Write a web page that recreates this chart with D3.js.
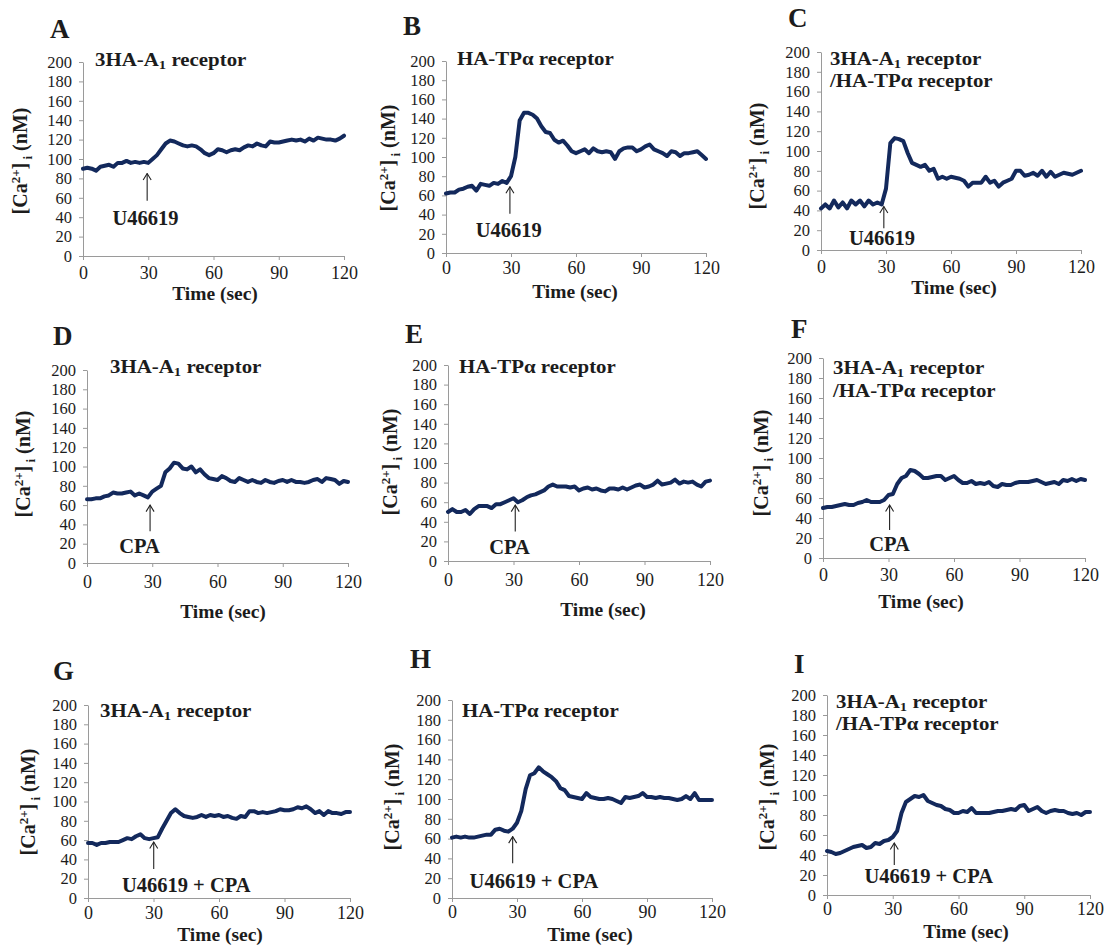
<!DOCTYPE html>
<html><head><meta charset="utf-8">
<script src="https://cdn.jsdelivr.net/npm/d3@7"></script>
<style>
body{margin:0;background:#fff}
svg{display:block}
text{font-family:"Liberation Serif","Times New Roman",serif;fill:#1c1c1c}
</style>
</head><body>
<svg id="chart" width="1106" height="945"></svg>
<script>
// ---------- DATA ----------
const timeSec = [0,2,4,6,8,10,12,14,16,18,20,22,24,26,28,30,32,34,36,38,40,42,44,46,48,50,52,54,56,58,60,62,64,66,68,70,72,74,76,78,80,82,84,86,88,90,92,94,96,98,100,102,104,106,108,110,112,114,116,118,120];
const xTickValues = [0,30,60,90,120];
const yTickValues = [0,20,40,60,80,100,120,140,160,180,200];
const panelLetters = ["A","B","C","D","E","F","G","H","I"];
const receptorTitles = ["a1","tp","both","a1","tp","both","a1","tp","both"];
const stimulusLabels = ["U46619","U46619","U46619","CPA","CPA","CPA","U46619 + CPA","U46619 + CPA","U46619 + CPA"];
const stimulusTime = [29.5,29.5,29,29,30.8,30.5,30.1,28,30.7];

const seriesA = [90,91,90,88,92,93,94,92,96,96,98,96,97,96,97,96,100,104,110,116,119,118,116,114,113,114,113,110,106,104,106,110,109,107,109,110,109,112,114,113,116,114,113,118,117,117,118,119,120,119,120,118,121,119,122,121,120,120,119,121,124];
const seriesB = [62,63,63,66,67,69,70,65,72,71,70,73,72,75,73,80,100,138,146,146,144,140,132,126,125,118,115,117,112,106,104,106,108,104,109,106,105,106,105,98,106,109,110,110,106,108,111,113,108,106,104,101,106,105,101,104,104,105,106,102,98];
const seriesC = [42,46,42,50,43,48,42,50,46,50,44,50,46,48,46,62,108,113,112,110,98,88,86,84,86,80,82,72,74,72,74,73,72,70,64,68,68,68,74,68,70,64,68,70,72,80,80,75,76,78,75,80,74,79,74,76,78,77,76,78,80];
const seriesD = [66,66,67,67,69,70,73,72,72,73,74,70,72,70,68,74,77,80,94,98,104,103,98,97,100,94,97,92,88,87,86,90,88,85,84,88,86,84,86,84,83,86,84,83,85,86,84,86,84,84,83,84,86,87,84,88,87,86,82,85,84];
const seriesE = [50,53,50,50,52,48,53,56,56,56,54,58,58,60,62,64,60,62,65,67,68,70,72,76,78,76,76,76,75,76,72,74,75,73,74,72,71,74,74,73,75,73,75,77,78,75,76,78,82,78,79,80,83,79,81,80,81,78,76,81,82];
const seriesF = [50,51,51,52,53,54,53,53,55,56,58,56,56,56,58,63,64,74,80,82,88,87,84,80,80,81,82,82,78,80,82,78,75,75,77,74,75,74,76,72,71,74,73,73,75,76,76,76,77,78,76,74,75,76,74,78,77,79,77,79,78];
const seriesG = [57,57,55,57,57,58,58,58,60,62,61,64,66,62,61,62,63,72,80,88,92,88,85,84,83,84,86,84,86,85,86,84,85,83,82,85,84,90,90,88,89,88,89,90,92,91,91,92,94,93,95,92,88,90,86,90,88,88,87,89,89];
const seriesH = [61,62,61,62,61,61,62,63,64,64,69,70,68,67,70,76,88,110,124,126,132,128,125,122,118,111,109,103,102,101,100,106,102,101,100,100,101,100,98,96,102,101,102,103,106,102,102,101,102,101,101,100,99,100,103,100,106,99,99,99,99];
const seriesI = [44,43,41,42,44,46,48,49,50,47,48,52,51,54,55,58,64,82,93,96,99,98,100,94,92,90,89,86,85,82,82,84,83,87,82,82,82,82,83,84,84,85,86,85,89,90,84,86,88,84,82,84,85,84,84,82,81,82,80,83,83];
const allSeries = [seriesA,seriesB,seriesC,seriesD,seriesE,seriesF,seriesG,seriesH,seriesI];

// arrow annotation in data units: tip value, tail value, label x (sec), label baseline value
const arrowTip  = [85,69,44,60,57,53,58,62,52];
const arrowTail = [57,41,22,33,30,28,30,35,30];
const labelTime = [28.7,29,28.2,24.2,28.2,30.5,45,37.8,46.4];
const labelBase = [31.6,17,5,10,7.5,7,6,10,12];

// ---------- LAYOUT ----------
const layout = [
 {L:83, R:344, B:256, T:62,  letter:[50,38],  title:[95,66],  tl:22, xlab:[215,300], ylab:[20,161],  pad:6},
 {L:446,R:706, B:253, T:61,  letter:[403,35], title:[457,65], tl:22, xlab:[575,298], ylab:[388,158], pad:4},
 {L:821,R:1081,B:250, T:52,  letter:[788,27], title:[830,65], tl:22, xlab:[954,294], ylab:[757,156], pad:6},
 {L:87, R:348, B:563, T:370, letter:[53,345], title:[110,373],tl:22, xlab:[223,618], ylab:[23,464],  pad:8},
 {L:448,R:710, B:561, T:365, letter:[405,343],title:[459,373],tl:22, xlab:[603,616], ylab:[390,462], pad:8},
 {L:823,R:1085,B:558, T:358, letter:[791,338],title:[833,374],tl:23, xlab:[921,608], ylab:[761,463], pad:6},
 {L:88, R:350, B:898, T:705, letter:[53,680], title:[100,717],tl:22, xlab:[220,941], ylab:[28,802],  pad:4},
 {L:452,R:712, B:898, T:700, letter:[410,668],title:[462,717],tl:22, xlab:[590,941], ylab:[392,797], pad:3},
 {L:827,R:1090,B:895, T:695, letter:[794,673],title:[836,708],tl:22, xlab:[966,938], ylab:[767,797], pad:3}
];

const LINE_COLOR = "#13295c";
const AXIS_COLOR = "#9a9a9a";
const TITLE_SIZE = "18.5px";
const TITLE_STRETCH = 1.13;

const svg = d3.select("#chart");
svg.append("rect").attr("width",1106).attr("height",945).attr("fill","#ffffff");

const defs = svg.append("defs");
defs.append("marker").attr("id","arrowhead")
  .attr("viewBox","0 0 10 10").attr("refX",9).attr("refY",5)
  .attr("markerWidth",10).attr("markerHeight",10).attr("markerUnits","userSpaceOnUse")
  .attr("orient","auto")
  .append("path").attr("d","M2.5,1 L9,5 L2.5,9").attr("fill","none").attr("stroke","#222").attr("stroke-width",1.1);

function stretchedText(g, x, y){
  return g.append("text").attr("transform",`translate(${x},${y}) scale(${TITLE_STRETCH},1)`)
    .attr("font-size",TITLE_SIZE).attr("font-weight","bold");
}
function writeTitle(g, key, x, y, lh){
  const addA1 = (t) => {
    t.append("tspan").text("3HA-A");
    t.append("tspan").attr("font-size","13px").attr("dy",3).text("1");
    t.append("tspan").attr("dy",-3).text(" receptor");
  };
  if(key==="a1"){
    addA1(stretchedText(g,x,y));
  } else if(key==="tp"){
    stretchedText(g,x,y).text("HA-TPα receptor");
  } else {
    addA1(stretchedText(g,x,y));
    stretchedText(g,x,y+lh).text("/HA-TPα receptor");
  }
}

allSeries.forEach((vals, i) => {
  const P = layout[i];
  const g = svg.append("g");
  const x = d3.scaleLinear().domain([0,120]).range([P.L,P.R]);
  const y = d3.scaleLinear().domain([0,200]).range([P.B,P.T]);

  // y axis
  const ya = g.append("g").attr("transform",`translate(${P.L},0)`)
    .call(d3.axisLeft(y).tickValues(yTickValues).tickSize(4).tickPadding(7).tickSizeOuter(0));
  ya.select(".domain").attr("stroke",AXIS_COLOR);
  ya.selectAll(".tick line").attr("stroke",AXIS_COLOR);
  ya.selectAll(".tick text").attr("font-size","16.5px").attr("font-family","Liberation Serif").attr("fill","#1c1c1c");

  // x axis
  const xa = g.append("g").attr("transform",`translate(0,${P.B})`)
    .call(d3.axisBottom(x).tickValues(xTickValues).tickSize(4).tickPadding(P.pad).tickSizeOuter(0));
  xa.select(".domain").attr("stroke",AXIS_COLOR);
  xa.selectAll(".tick line").attr("stroke",AXIS_COLOR);
  xa.selectAll(".tick text").attr("font-size","18px").attr("font-family","Liberation Serif").attr("fill","#1c1c1c");

  // trace
  const line = d3.line().x((d,k)=>x(timeSec[k])).y(d=>y(d)).curve(d3.curveLinear);
  g.append("path").datum(vals).attr("d",line)
    .attr("fill","none").attr("stroke",LINE_COLOR).attr("stroke-width",4)
    .attr("stroke-linejoin","round").attr("stroke-linecap","round");

  // stimulus arrow
  g.append("line")
    .attr("x1",x(stimulusTime[i])).attr("x2",x(stimulusTime[i]))
    .attr("y1",y(arrowTail[i])).attr("y2",y(arrowTip[i]))
    .attr("stroke","#222").attr("stroke-width",1.1)
    .attr("marker-end","url(#arrowhead)");
  g.append("text").attr("x",x(labelTime[i])).attr("y",y(labelBase[i]))
    .attr("text-anchor","middle").attr("font-size","20.5px").attr("font-weight","bold")
    .text(stimulusLabels[i]);

  // panel letter
  g.append("text").attr("x",P.letter[0]).attr("y",P.letter[1])
    .attr("font-size","27px").attr("font-weight","bold").text(panelLetters[i]);

  // title
  writeTitle(g, receptorTitles[i], P.title[0], P.title[1], P.tl);

  // x label
  g.append("text").attr("x",P.xlab[0]).attr("y",P.xlab[1]).attr("text-anchor","middle")
    .attr("font-size","19.5px").attr("font-weight","bold").text("Time (sec)");

  // y label
  const yl = g.append("text").attr("transform",`translate(${P.ylab[0]},${P.ylab[1]}) rotate(-90)`)
    .attr("text-anchor","middle").attr("dy","0.35em")
    .attr("font-size","20px").attr("font-weight","bold");
  yl.append("tspan").text("[Ca");
  yl.append("tspan").attr("font-size","13px").attr("dy",-7).text("2+");
  yl.append("tspan").attr("dy",7).text("]");
  yl.append("tspan").attr("font-size","13px").attr("dy",5).text(" i");
  yl.append("tspan").attr("dy",-5).text(" (nM)");
});
</script>
</body></html>
